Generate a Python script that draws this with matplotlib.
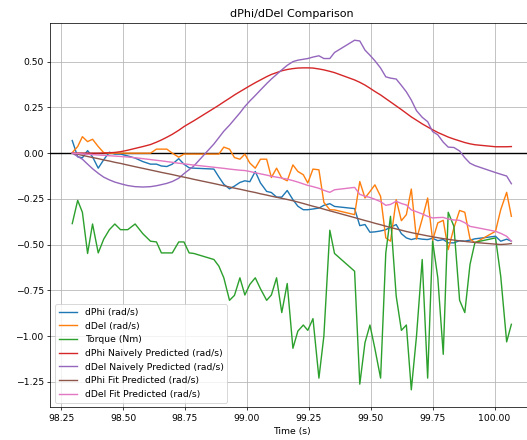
import matplotlib
matplotlib.use("Agg")
import matplotlib.pyplot as plt

# sample times (s)
time = [98.295, 98.317, 98.336, 98.357, 98.377, 98.400, 98.422, 98.445, 98.467, 98.490,
        98.519, 98.549, 98.580, 98.611, 98.635, 98.655, 98.677, 98.699, 98.725, 98.746,
        98.767, 98.786, 98.867, 98.887, 98.907, 98.930, 98.950, 98.972, 98.992, 99.012,
        99.034, 99.055, 99.080, 99.099, 99.120, 99.141, 99.163, 99.186, 99.206, 99.228,
        99.246, 99.267, 99.291, 99.311, 99.335, 99.354, 99.435, 99.456, 99.477, 99.497,
        99.517, 99.540, 99.561, 99.580, 99.603, 99.624, 99.644, 99.664, 99.685, 99.708,
        99.730, 99.750, 99.771, 99.793, 99.813, 99.836, 99.859, 99.880, 99.901, 99.921,
        100.004, 100.025, 100.049, 100.068]

dphi = [0.069, -0.020, -0.025, 0.014, -0.020, -0.082, -0.036, 0.005, -0.005, -0.005,
        -0.015, -0.027, -0.046, -0.060, -0.060, -0.070, -0.073, -0.060, -0.030, -0.060,
        -0.080, -0.082, -0.087, -0.130, -0.170, -0.195, -0.180, -0.160, -0.151, -0.156,
        -0.100, -0.163, -0.209, -0.215, -0.240, -0.240, -0.204, -0.254, -0.290, -0.309,
        -0.309, -0.305, -0.300, -0.285, -0.276, -0.291, -0.303, -0.396, -0.390, -0.432,
        -0.430, -0.425, -0.418, -0.405, -0.390, -0.440, -0.463, -0.472, -0.465, -0.470,
        -0.472, -0.465, -0.478, -0.472, -0.490, -0.490, -0.478, -0.481, -0.475, -0.468,
        -0.454, -0.481, -0.470, -0.481]

ddel = [0.003, 0.036, 0.090, 0.063, 0.076, 0.036, 0.003, 0.000, 0.000, 0.000,
        0.000, 0.000, 0.000, 0.000, 0.022, 0.022, 0.022, 0.000, -0.022, -0.005,
        -0.005, -0.005, -0.005, -0.005, 0.033, 0.022, -0.024, -0.033, -0.005, -0.054,
        -0.082, -0.033, -0.033, -0.133, -0.082, -0.136, -0.151, -0.064, -0.100, -0.118,
        -0.163, -0.087, -0.091, -0.269, -0.309, -0.310, -0.336, -0.155, -0.245, -0.210,
        -0.173, -0.236, -0.463, -0.481, -0.254, -0.369, -0.336, -0.196, -0.470, -0.360,
        -0.245, -0.476, -0.381, -0.367, -0.527, -0.408, -0.313, -0.323, -0.468, -0.490,
        -0.427, -0.309, -0.214, -0.345]

torque = [-0.385, -0.258, -0.323, -0.548, -0.387, -0.545, -0.470, -0.418, -0.387, -0.418,
          -0.418, -0.387, -0.440, -0.481, -0.485, -0.545, -0.545, -0.545, -0.485, -0.485,
          -0.545, -0.548, -0.581, -0.617, -0.681, -0.804, -0.777, -0.681, -0.775, -0.717,
          -0.681, -0.741, -0.804, -0.775, -0.681, -0.871, -0.712, -1.066, -0.972, -0.939,
          -0.968, -0.904, -1.229, -0.999, -0.421, -0.548, -0.645, -1.262, -1.035, -0.939,
          -1.068, -1.229, -0.545, -0.345, -0.781, -0.968, -0.939, -1.293, -0.999, -0.581,
          -1.229, -0.481, -0.681, -1.099, -0.323, -0.400, -0.804, -0.871, -0.608, -0.487,
          -0.463, -0.672, -1.031, -0.935]

dphi_naive = [0.000, 0.000, 0.000, 0.000, 0.000, 0.000, 0.001, 0.002, 0.004, 0.008,
              0.016, 0.026, 0.036, 0.047, 0.060, 0.072, 0.087, 0.103, 0.125, 0.145,
              0.162, 0.177, 0.245, 0.262, 0.280, 0.300, 0.318, 0.336, 0.352, 0.368,
              0.385, 0.400, 0.418, 0.430, 0.440, 0.450, 0.457, 0.462, 0.465, 0.466,
              0.466, 0.465, 0.460, 0.455, 0.447, 0.440, 0.400, 0.387, 0.372, 0.355,
              0.337, 0.318, 0.298, 0.280, 0.258, 0.238, 0.218, 0.198, 0.180, 0.160,
              0.143, 0.128, 0.113, 0.100, 0.088, 0.077, 0.067, 0.058, 0.051, 0.046,
              0.035, 0.035, 0.035, 0.036]

ddel_naive = [0.000, -0.018, -0.033, -0.060, -0.085, -0.110, -0.131, -0.146, -0.158, -0.167,
              -0.177, -0.183, -0.185, -0.183, -0.178, -0.172, -0.165, -0.155, -0.137, -0.112,
              -0.090, -0.070, 0.050, 0.085, 0.120, 0.153, 0.185, 0.220, 0.255, 0.285,
              0.315, 0.345, 0.380, 0.405, 0.430, 0.455, 0.480, 0.500, 0.508, 0.513,
              0.517, 0.525, 0.532, 0.517, 0.517, 0.550, 0.617, 0.613, 0.563, 0.535,
              0.505, 0.465, 0.417, 0.410, 0.405, 0.370, 0.335, 0.290, 0.232, 0.196,
              0.172, 0.118, 0.100, 0.060, 0.033, 0.031, 0.012, -0.025, -0.055, -0.068,
              -0.106, -0.115, -0.125, -0.167]

dphi_fit = [0.000, -0.006, -0.012, -0.018, -0.024, -0.030, -0.037, -0.043, -0.050, -0.056,
            -0.065, -0.074, -0.083, -0.092, -0.099, -0.105, -0.111, -0.117, -0.125, -0.131,
            -0.137, -0.143, -0.166, -0.172, -0.178, -0.185, -0.191, -0.197, -0.203, -0.209,
            -0.215, -0.222, -0.229, -0.235, -0.241, -0.247, -0.253, -0.260, -0.267, -0.275,
            -0.282, -0.290, -0.298, -0.306, -0.315, -0.322, -0.352, -0.360, -0.368, -0.375,
            -0.383, -0.391, -0.399, -0.406, -0.414, -0.421, -0.428, -0.434, -0.440, -0.446,
            -0.452, -0.457, -0.462, -0.467, -0.471, -0.475, -0.479, -0.482, -0.485, -0.488,
            -0.497, -0.499, -0.497, -0.494]

ddel_fit = [0.000, -0.002, -0.004, -0.006, -0.008, -0.010, -0.012, -0.014, -0.016, -0.018,
            -0.021, -0.025, -0.030, -0.035, -0.039, -0.042, -0.046, -0.050, -0.055, -0.058,
            -0.062, -0.065, -0.077, -0.080, -0.083, -0.087, -0.090, -0.093, -0.095, -0.100,
            -0.107, -0.113, -0.120, -0.126, -0.131, -0.136, -0.142, -0.150, -0.158, -0.168,
            -0.176, -0.183, -0.192, -0.203, -0.214, -0.200, -0.187, -0.225, -0.235, -0.242,
            -0.252, -0.265, -0.285, -0.280, -0.263, -0.275, -0.283, -0.310, -0.320, -0.332,
            -0.345, -0.354, -0.352, -0.351, -0.360, -0.365, -0.367, -0.380, -0.400, -0.405,
            -0.427, -0.438, -0.454, -0.481]

DPI = 67
fig = plt.figure(figsize=(527 / DPI, 440 / DPI), dpi=DPI)
ax = fig.add_axes([0.0954, 0.0743, 0.9166, 0.874])

ax.axhline(0, color='black')
ax.plot(time, dphi, label='dPhi (rad/s)')
ax.plot(time, ddel, label='dDel (rad/s)')
ax.plot(time, torque, label='Torque (Nm)')
ax.plot(time, dphi_naive, label='dPhi Naively Predicted (rad/s)')
ax.plot(time, ddel_naive, label='dDel Naively Predicted (rad/s)')
ax.plot(time, dphi_fit, label='dPhi Fit Predicted (rad/s)')
ax.plot(time, ddel_fit, label='dDel Fit Predicted (rad/s)')

ax.set_title('dPhi/dDel Comparison')
ax.set_xlabel('Time (s)')
ax.grid(True)
ax.legend(loc='lower left')

fig.savefig('out.png', dpi=DPI)
